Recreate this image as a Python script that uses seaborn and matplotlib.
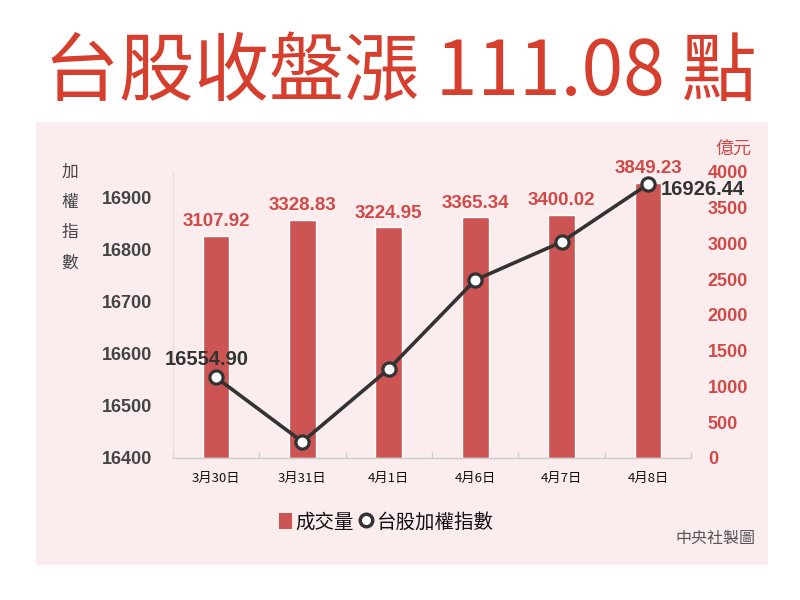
import numpy as np
import pandas as pd
import matplotlib
matplotlib.use("Agg")
import matplotlib.pyplot as plt
from matplotlib.patches import Rectangle, Patch
from matplotlib.lines import Line2D
import seaborn as sns

dates = ["3月30日", "3月31日", "4月1日", "4月6日", "4月7日", "4月8日"]
volume = [3107.92, 3328.83, 3224.95, 3365.34, 3400.02, 3849.23]
index_vals = [16554.90, 16431.13, 16571.28, 16742.15, 16815.36, 16926.44]
left_ticks = [16400, 16500, 16600, 16700, 16800, 16900]
right_ticks = [0, 500, 1000, 1500, 2000, 2500, 3000, 3500, 4000]

sns.set_theme(style="white")
plt.rcParams['font.family'] = ['Liberation Sans', 'Noto Sans CJK TC', 'DejaVu Sans']
CJK = ['Noto Sans CJK TC', 'DejaVu Sans']

BAR = "#cc5452"
RED_TXT = "#d04a48"
TITLE_RED = "#d63e2e"
DARK = "#333333"
GREY = "#444444"

df = pd.DataFrame({"date": dates, "volume": volume, "index": index_vals,
                   "pos": np.arange(len(dates))})

fig = plt.figure(figsize=(8, 6), dpi=100)
fig.patch.set_facecolor("white")
fig.patches.append(Rectangle((0.045, 0.0583), 0.915, 0.738, transform=fig.transFigure,
                             facecolor="#fbeded", edgecolor="none", zorder=-5))

ax = fig.add_axes([0.216, 0.2367, 0.648, 0.4767])
ax.set_facecolor("none")
sns.barplot(data=df, x="date", y="volume", color=BAR, saturation=1, width=0.31, ax=ax)
ax2 = ax.twinx()
ax2.set_facecolor("none")
sns.lineplot(data=df, x="pos", y="index", ax=ax2, color=DARK, linewidth=2.6,
             marker="o", markersize=9.5, markerfacecolor="white",
             markeredgecolor=DARK, markeredgewidth=2.3)

# bar axis (right side)
ax.set_ylim(0, 4000)
ax.set_xlim(-0.5, len(dates) - 0.5)
ax.yaxis.tick_right()
ax.set_yticks(right_ticks)
ax.set_yticklabels([str(v) for v in right_ticks], color=RED_TXT, fontsize=13, fontweight="bold")
ax.tick_params(axis="y", length=0, pad=12)
ax.tick_params(axis="x", which="major", length=0, pad=10)
ax.set_xticks(np.arange(len(dates) + 1) - 0.5, minor=True)
ax.tick_params(axis="x", which="minor", bottom=True, length=4, width=1,
               direction="in", color="#cccccc")
for lbl in ax.get_xticklabels():
    lbl.set_family(CJK)
    lbl.set_fontsize(9.5)
    lbl.set_color("#111111")
ax.set_xlabel("")
ax.set_ylabel("")
ax.bar_label(ax.containers[0], fmt="%.2f", padding=4, color=RED_TXT,
             fontsize=13.5, fontweight="bold")
for s in ["top", "right", "left"]:
    ax.spines[s].set_visible(False)
ax.spines["bottom"].set_color("#cccccc")
ax.spines["bottom"].set_linewidth(1)

# index axis (left side)
ax2.set_ylim(16400, 16950)
ax2.set_xlim(-0.5, len(dates) - 0.5)
ax2.yaxis.tick_left()
ax2.set_yticks(left_ticks)
ax2.set_yticklabels([str(v) for v in left_ticks], color=GREY, fontsize=13, fontweight="bold")
ax2.tick_params(axis="y", length=0, pad=15)
ax2.tick_params(axis="y", which="both", right=False, labelright=False, left=True, labelleft=True)
ax.tick_params(axis="y", which="both", left=False, labelleft=False, right=True, labelright=True)
ax2.set_xlabel("")
ax2.set_ylabel("")
for s in ["top", "right", "bottom"]:
    ax2.spines[s].set_visible(False)
ax2.spines["left"].set_color("#eadada")
ax2.spines["left"].set_linewidth(0.8)

ax2.annotate(f"{index_vals[0]:.2f}", (0, index_vals[0]), xytext=(-7, 13),
             textcoords="offset points", ha="center", va="center",
             fontsize=14.5, fontweight="bold", color=DARK)
ax2.annotate(f"{index_vals[-1]:.2f}", (len(dates) - 1, index_vals[-1]), xytext=(9, -4),
             textcoords="offset points", ha="left", va="center",
             fontsize=14.5, fontweight="bold", color=DARK)

# title
fig.text(0.5, 0.878, "台股收盤漲 111.08 點", ha="center", va="center",
         fontsize=54, color=TITLE_RED, family=CJK)

# left axis label (vertical stacked)
for i, ch in enumerate("加權指數"):
    fig.text(70 / 800, 1 - (172 + 30.5 * i) / 600, ch, ha="center", va="center",
             fontsize=12, color=GREY, family=CJK)
fig.text(733 / 800, 1 - 150 / 600, "億元", ha="center", va="center",
         fontsize=13, color=RED_TXT, family=CJK)

# legend
handles = [Patch(facecolor=BAR, edgecolor="none"),
           Line2D([], [], marker="o", linestyle="none", markersize=9,
                  markerfacecolor="white", markeredgecolor=DARK, markeredgewidth=2.5)]
leg = fig.legend(handles, ["成交量", "台股加權指數"], loc="center",
                 bbox_to_anchor=(386 / 800, 1 - 522 / 600), ncol=2, frameon=False,
                 handlelength=0.7, handleheight=0.9, handletextpad=0.15,
                 columnspacing=0.3, prop={"family": CJK, "size": 14})
for t in leg.get_texts():
    t.set_color("#111111")

fig.text(755 / 800, 1 - 538 / 600, "中央社製圖", ha="right", va="center",
         fontsize=11.5, color="#555555", family=CJK)

fig.savefig("out.png", dpi=100)
